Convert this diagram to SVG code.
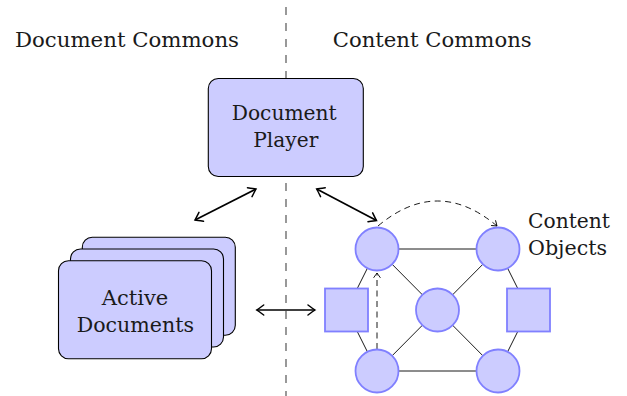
<svg xmlns="http://www.w3.org/2000/svg" width="627" height="396" viewBox="0 0 627 396">
  <style>
    .lbl { font-family: 'DejaVu Serif', serif; font-size: 21px; fill: #1a1a1a; }
    .box { fill: #ccccff; stroke: #000; stroke-width: 1.1; }
    .obj { fill: #ccccff; stroke: #8080ff; stroke-width: 1.8; }
    .edge { stroke: #000; stroke-width: 0.9; fill: none; }
    .link { stroke: #000; stroke-width: 1.7; fill: none; marker-start: url(#tip); marker-end: url(#tip); }
    .flow { stroke: #000; stroke-width: 0.9; fill: none; stroke-dasharray: 6 4.5; marker-end: url(#tipThin); }
    .divider { stroke: #555; stroke-width: 1.2; stroke-dasharray: 8 8; }
  </style>
  <defs>
    <marker id="tip" markerUnits="userSpaceOnUse" markerWidth="16" markerHeight="16" viewBox="-9 -8 11 16" refX="0" refY="0" orient="auto-start-reverse">
      <path d="M -7 -5 Q -1.8 -1.2 0 0 Q -1.8 1.2 -7 5" fill="none" stroke="#000" stroke-width="1.5" stroke-linecap="round"/>
    </marker>
    <marker id="tipThin" markerUnits="userSpaceOnUse" markerWidth="10" markerHeight="10" viewBox="-6 -5 7 10" refX="0" refY="0" orient="auto">
      <path d="M -4.5 -3.2 Q -1 -0.7 0 0 Q -1 0.7 -4.5 3.2" fill="none" stroke="#000" stroke-width="0.9" stroke-linecap="round"/>
    </marker>
  </defs>

  <!-- commons divider -->
  <line class="divider" x1="286" y1="7" x2="286" y2="396"/>

  <text class="lbl" x="15" y="47" textLength="224" lengthAdjust="spacingAndGlyphs">Document Commons</text>
  <text class="lbl" x="332.7" y="47" textLength="199" lengthAdjust="spacingAndGlyphs">Content Commons</text>

  <!-- connectors -->
  <g id="connectors">
    <!-- graph edges between content objects -->
    <line class="edge" x1="377" y1="249" x2="498" y2="249"/>
    <line class="edge" x1="377" y1="371" x2="498" y2="371"/>
    <line class="edge" x1="377" y1="249" x2="498" y2="371"/>
    <line class="edge" x1="498" y1="249" x2="377" y2="371"/>
    <line class="edge" x1="377" y1="249" x2="346.5" y2="310"/>
    <line class="edge" x1="346.5" y1="310" x2="377" y2="371"/>
    <line class="edge" x1="498" y1="249" x2="528.5" y2="310"/>
    <line class="edge" x1="528.5" y1="310" x2="498" y2="371"/>
    <!-- exchanges across the divider -->
    <line class="link" x1="195" y1="220" x2="256" y2="189"/>
    <line class="link" x1="316.7" y1="189" x2="376.5" y2="220.5"/>
    <line class="link" x1="256.7" y1="310" x2="315" y2="310"/>
    <!-- dashed flows -->
    <path class="flow" d="M 378 226 Q 437.5 176 497 226"/>
    <line class="flow" x1="377" y1="349" x2="377" y2="273"/>
  </g>

  <g id="document-player">
    <rect class="box" x="208.3" y="78.5" width="155" height="98" rx="10"/>
    <text class="lbl" x="231.7" y="120" textLength="105" lengthAdjust="spacingAndGlyphs">Document</text>
    <text class="lbl" x="253.3" y="147" textLength="65" lengthAdjust="spacingAndGlyphs">Player</text>
  </g>

  <g id="active-documents">
    <rect class="box" x="82.3" y="237.3" width="153" height="98" rx="10"/>
    <rect class="box" x="70.5" y="249" width="153" height="98" rx="10"/>
    <rect class="box" x="58.5" y="260.8" width="153" height="98" rx="10"/>
    <text class="lbl" x="101.7" y="305" textLength="66.6" lengthAdjust="spacingAndGlyphs">Active</text>
    <text class="lbl" x="76.7" y="332" textLength="117.3" lengthAdjust="spacingAndGlyphs">Documents</text>
  </g>

  <g id="content-objects">
    <circle id="obj-top-left" class="obj" cx="377" cy="249" r="21.5"/>
    <circle id="obj-top-right" class="obj" cx="498" cy="249" r="21.5"/>
    <circle id="obj-center" class="obj" cx="437.5" cy="310" r="21.5"/>
    <circle id="obj-bottom-left" class="obj" cx="377" cy="371" r="21.5"/>
    <circle id="obj-bottom-right" class="obj" cx="498" cy="371" r="21.5"/>
    <rect id="obj-left" class="obj" x="325" y="288.5" width="43" height="43"/>
    <rect id="obj-right" class="obj" x="507" y="288.5" width="43" height="43"/>
    <text class="lbl" x="528" y="228" textLength="82" lengthAdjust="spacingAndGlyphs">Content</text>
    <text class="lbl" x="528" y="255" textLength="79" lengthAdjust="spacingAndGlyphs">Objects</text>
  </g>
</svg>
